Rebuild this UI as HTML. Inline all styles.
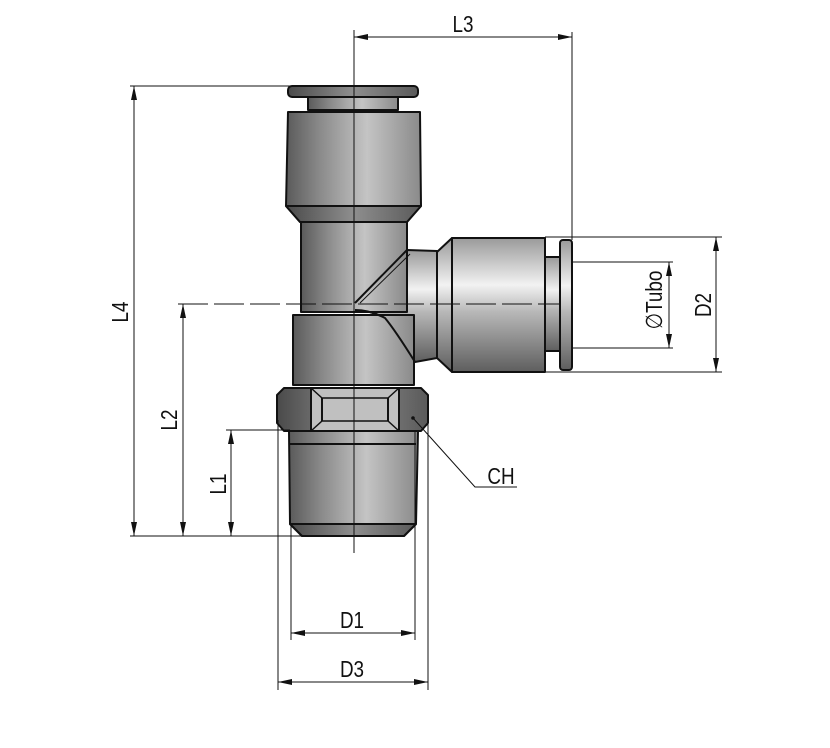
<!DOCTYPE html>
<html><head><style>
html,body{margin:0;padding:0;background:#fff;}
svg{display:block;}
text{font-family:"Liberation Sans",sans-serif;font-size:23px;fill:#111;}
</style></head><body>
<svg width="830" height="748" viewBox="0 0 830 748" xmlns="http://www.w3.org/2000/svg">
<defs>
<linearGradient id="gv" x1="0" x2="1" y1="0" y2="0">
<stop offset="0" stop-color="#5a5a5a"/><stop offset="0.25" stop-color="#8a8a8a"/><stop offset="0.6" stop-color="#c4c4c4"/><stop offset="1" stop-color="#8a8a8a"/>
</linearGradient>
<linearGradient id="gh" x1="0" x2="0" y1="0" y2="1">
<stop offset="0" stop-color="#9a9a9a"/><stop offset="0.35" stop-color="#f2f2f2"/><stop offset="0.55" stop-color="#b8b8b8"/><stop offset="1" stop-color="#5e5e5e"/>
</linearGradient>
<linearGradient id="gd" x1="0" x2="1" y1="0" y2="0">
<stop offset="0" stop-color="#4a4a4a"/><stop offset="0.5" stop-color="#8e8e8e"/><stop offset="1" stop-color="#5a5a5a"/>
</linearGradient>
<marker id="a" viewBox="0 0 14 6" refX="14" refY="3" markerWidth="14" markerHeight="6" orient="auto-start-reverse" markerUnits="userSpaceOnUse"><path d="M0,0 L14,3 L0,6 z" fill="#111"/></marker>
</defs>
<g stroke="#111" stroke-width="2" stroke-linejoin="round">
<!-- side branch -->
<path d="M407,250 L437,251 L437,358 L415,362 Q395,330 385,318 Q370,310 355,310 L355,303 Z" fill="url(#gh)"/>
<path d="M437,252 L452,238 L452,372 L437,358 Z" fill="url(#gh)"/>
<rect x="452" y="238" width="93" height="134" fill="url(#gh)"/>
<rect x="545" y="257" width="15" height="94" fill="url(#gh)"/>
<rect x="560" y="240" width="12" height="130" rx="3" fill="url(#gh)"/>
<!-- vertical body -->
<rect x="288" y="86" width="130" height="11" rx="4" fill="url(#gd)"/>
<rect x="308" y="97" width="90" height="13" fill="url(#gv)"/>
<path d="M288,112 L420,112 L421,206 L407,222 L300,222 L286,206 Z" fill="url(#gv)"/>
<path d="M286,206 L421,206 L407,222 L300,222 Z" fill="url(#gd)"/>
<rect x="301" y="222" width="106" height="90" fill="url(#gv)"/>
<path d="M407,250 L355,303" fill="none"/>
<path d="M410,254 L360,303" fill="none" stroke-width="1"/>
<rect x="293" y="315" width="121" height="70" fill="url(#gv)"/>
<path d="M355,310 Q370,310 385,318 Q395,330 415,362" fill="none"/>
<!-- hex -->
<path d="M284,388 L421,388 L428,395 L428,423 L421,431 L284,431 L277,423 L277,395 Z" fill="url(#gd)"/>
<path d="M311,388 L399,388 L399,431 L311,431 Z" fill="#c0c0c0"/>
<path d="M311,388 L322,398 L388,398 L399,388 M311,431 L322,421 L388,421 L399,431" fill="none" stroke-width="1.5"/>
<line x1="322" y1="398" x2="322" y2="421"/><line x1="388" y1="398" x2="388" y2="421"/>
<!-- thread -->
<path d="M289,431 L418,431 L416,524 L404,536 L302,536 L290,524 Z" fill="url(#gv)"/>
<path d="M290,524 L416,524 L404,536 L302,536 Z" fill="url(#gd)"/>
<line x1="290" y1="444" x2="416" y2="444"/>
</g>
<g stroke="#111" stroke-width="1" fill="none">
<!-- center lines -->
<line x1="354" y1="30" x2="354" y2="553"/>
<line x1="178" y1="304" x2="560" y2="304" stroke-dasharray="30,6"/>
<!-- L3 -->
<line x1="572" y1="32" x2="572" y2="240"/>
<line x1="354" y1="37" x2="572" y2="37" marker-start="url(#a)" marker-end="url(#a)"/>
<!-- L4 -->
<line x1="130" y1="86" x2="290" y2="86"/>
<line x1="130" y1="536" x2="302" y2="536"/>
<line x1="134" y1="86" x2="134" y2="536" marker-start="url(#a)" marker-end="url(#a)"/>
<line x1="183" y1="304" x2="183" y2="536" marker-start="url(#a)" marker-end="url(#a)"/>
<line x1="226" y1="430" x2="290" y2="430"/>
<line x1="231" y1="430" x2="231" y2="536" marker-start="url(#a)" marker-end="url(#a)"/>
<!-- D2 / Tubo -->
<line x1="545" y1="237" x2="722" y2="237"/>
<line x1="545" y1="372" x2="722" y2="372"/>
<line x1="716" y1="237" x2="716" y2="372" marker-start="url(#a)" marker-end="url(#a)"/>
<line x1="572" y1="262" x2="673" y2="262"/>
<line x1="572" y1="348" x2="673" y2="348"/>
<line x1="669" y1="262" x2="669" y2="348" marker-start="url(#a)" marker-end="url(#a)"/>
<!-- D1 D3 -->
<line x1="291" y1="524" x2="291" y2="640"/>
<line x1="415" y1="431" x2="415" y2="640"/>
<line x1="291" y1="633" x2="415" y2="633" marker-start="url(#a)" marker-end="url(#a)"/>
<line x1="278" y1="420" x2="278" y2="690"/>
<line x1="428" y1="420" x2="428" y2="690"/>
<line x1="278" y1="682" x2="428" y2="682" marker-start="url(#a)" marker-end="url(#a)"/>
<!-- CH leader -->
<polyline points="413,418 475,487 517,487"/>
</g>
<circle cx="413" cy="418" r="1.8" fill="#111"/>
<g>
<text x="463" y="32" text-anchor="middle" transform="translate(463 0) scale(0.82 1) translate(-463 0)">L3</text>
<text transform="translate(128 312) rotate(-90) scale(0.82 1)" text-anchor="middle">L4</text>
<text transform="translate(177 420) rotate(-90) scale(0.82 1)" text-anchor="middle">L2</text>
<text transform="translate(226 484) rotate(-90) scale(0.82 1)" text-anchor="middle">L1</text>
<text transform="translate(711 305) rotate(-90) scale(0.82 1)" text-anchor="middle">D2</text>
<text transform="translate(662 300) rotate(-90) scale(0.82 1)" text-anchor="middle">∅Tubo</text>
<text transform="translate(352 628) scale(0.82 1)" text-anchor="middle">D1</text>
<text transform="translate(352 677) scale(0.82 1)" text-anchor="middle">D3</text>
<text transform="translate(501 484) scale(0.82 1)" text-anchor="middle">CH</text>
</g>
</svg>
</body></html>
